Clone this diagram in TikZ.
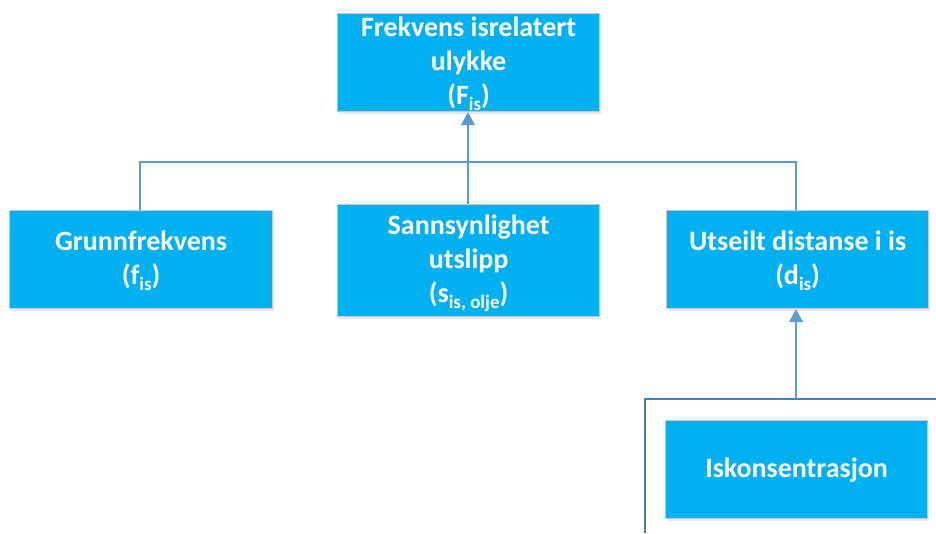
\documentclass[tikz,border=0pt]{standalone}
\usepackage{fontspec}
\setmainfont{Carlito}
\usetikzlibrary{arrows.meta,shadows}
\definecolor{boxfill}{HTML}{00B0F0}
\definecolor{boxline}{HTML}{C8C8C8}
\definecolor{conn}{HTML}{5B9BD5}
\definecolor{grp}{HTML}{4A7EBB}
\tikzset{
  box/.style={draw=boxline, line width=1.2pt, fill=boxfill, text=white,
    font=\fontsize{28}{34}\selectfont\bfseries, align=center,
    inner sep=0pt, anchor=north west,
    drop shadow={opacity=0.18, shadow xshift=1.5pt, shadow yshift=-2.5pt}},
  conn/.style={draw=conn, line width=1.6pt},
  arr/.style={conn, -{Triangle[width=14pt,length=13pt]}},
  grp/.style={draw=grp, line width=1.3pt}
}
\newcommand{\sbs}[1]{\raisebox{-0.22em}[\height][0pt]{\fontsize{19}{19}\selectfont #1}}
\begin{document}
\begin{tikzpicture}[x=1pt,y=-1pt]
\useasboundingbox (0,0) rectangle (936,533);
\node[box, minimum width=262pt, minimum height=98pt] (top) at (337,13)
  {Frekvens isrelatert\\ulykke\\(F\sbs{is})};
\node[box, minimum width=263pt, minimum height=98pt] (grunn) at (9,210)
  {Grunnfrekvens\\(f\sbs{is})};
\node[box, minimum width=262pt, minimum height=112pt] (sann) at (337,204)
  {Sannsynlighet\\utslipp\\(s\sbs{is, olje})};
\node[box, minimum width=262pt, minimum height=98pt] (dist) at (666,210)
  {Utseilt distanse i is\\(d\sbs{is})};
\node[box, minimum width=262pt, minimum height=98pt] (kons) at (665,420)
  {Iskonsentrasjon};
\coordinate (jl) at (140,162);
\coordinate (jr) at (796,162);
\coordinate (gtop) at (796,399);
\coordinate (gl) at (645,399);
\coordinate (gr) at (936,399);
\coordinate (gb) at (645,533);
% connectors
\draw[conn] (grunn.north -| jl) -- (jl) -- (jr) -- (dist.north -| jr);
\draw[arr] (sann.north -| 468,0) -- (top.south -| 468,0);
\draw[grp] (gb) -- (gl) -- (gr);
\draw[arr] (gtop) -- (dist.south -| gtop);
\end{tikzpicture}
\end{document}
